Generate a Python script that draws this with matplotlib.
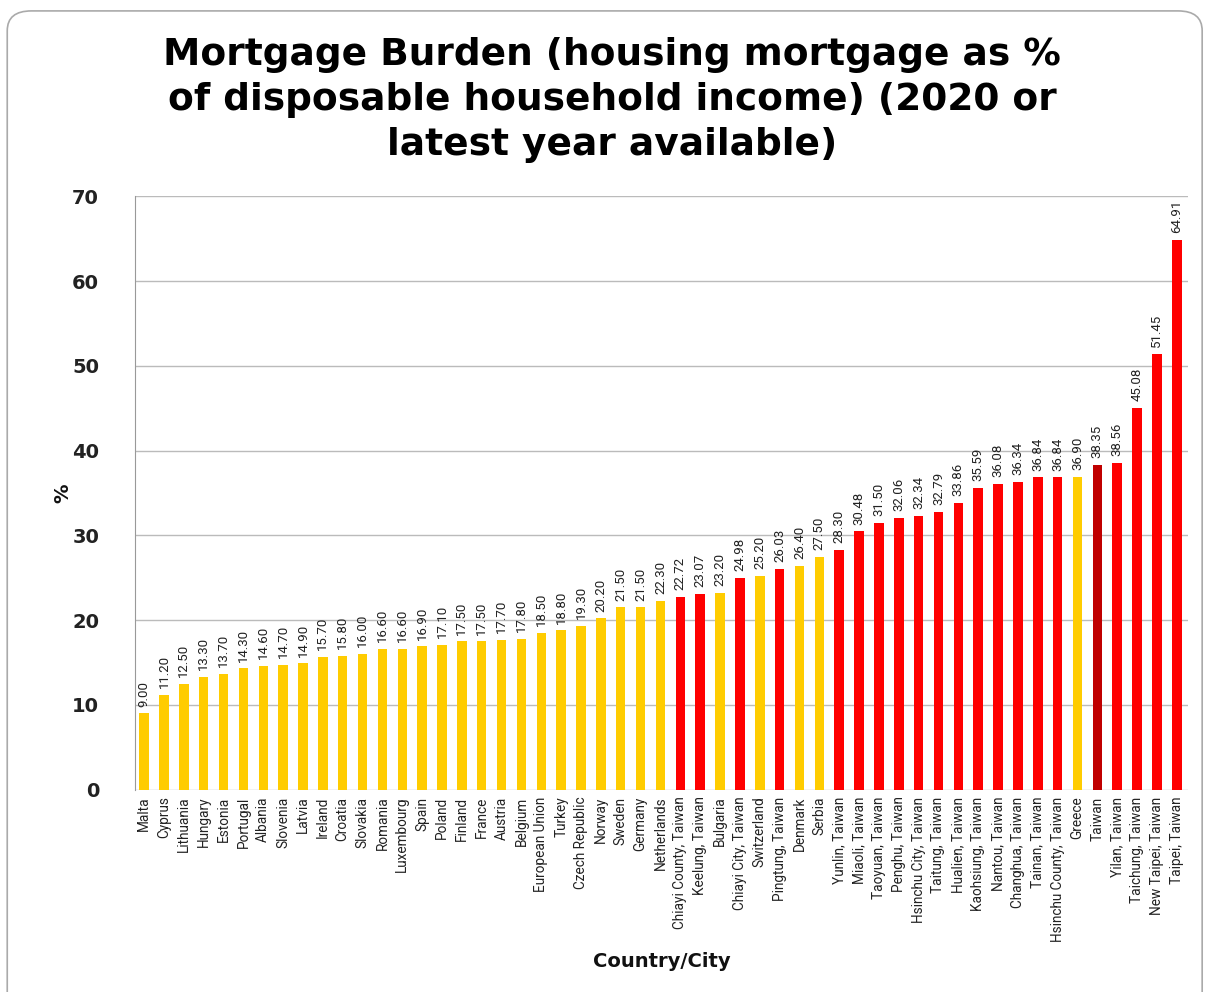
import matplotlib
matplotlib.use("Agg")
import matplotlib.pyplot as plt
from matplotlib.patches import FancyBboxPatch
import numpy as np

# 数据
labels = ["Malta", "Cyprus", "Lithuania", "Hungary", "Estonia", "Portugal", "Albania",
          "Slovenia", "Latvia", "Ireland", "Croatia", "Slovakia", "Romania", "Luxembourg",
          "Spain", "Poland", "Finland", "France", "Austria", "Belgium", "European Union",
          "Turkey", "Czech Republic", "Norway", "Sweden", "Germany", "Netherlands",
          "Chiayi County, Taiwan", "Keelung, Taiwan", "Bulgaria", "Chiayi City, Taiwan",
          "Switzerland", "Pingtung, Taiwan", "Denmark", "Serbia", "Yunlin, Taiwan",
          "Miaoli, Taiwan", "Taoyuan, Taiwan", "Penghu, Taiwan", "Hsinchu City, Taiwan",
          "Taitung, Taiwan", "Hualien, Taiwan", "Kaohsiung, Taiwan", "Nantou, Taiwan",
          "Changhua, Taiwan", "Tainan, Taiwan", "Hsinchu County, Taiwan", "Greece",
          "Taiwan", "Yilan, Taiwan", "Taichung, Taiwan", "New Taipei, Taiwan", "Taipei, Taiwan"]
values = [9.00, 11.20, 12.50, 13.30, 13.70, 14.30, 14.60, 14.70, 14.90, 15.70, 15.80,
          16.00, 16.60, 16.60, 16.90, 17.10, 17.50, 17.50, 17.70, 17.80, 18.50, 18.80,
          19.30, 20.20, 21.50, 21.50, 22.30, 22.72, 23.07, 23.20, 24.98, 25.20, 26.03,
          26.40, 27.50, 28.30, 30.48, 31.50, 32.06, 32.34, 32.79, 33.86, 35.59, 36.08,
          36.34, 36.84, 36.84, 36.90, 38.35, 38.56, 45.08, 51.45, 64.91]

def bar_color(name):
    if name == "Taiwan":
        return "#C00000"
    if "Taiwan" in name:
        return "#FF0000"
    return "#FFCC00"

colors = [bar_color(n) for n in labels]
narrow = "Roboto"

fig = plt.figure(figsize=(12.07, 9.92), dpi=100)
ax = fig.add_axes([0.112, 0.204, 0.872, 0.598])

x = np.arange(len(values))
ax.bar(x, values, width=0.48, color=colors, zorder=3)
for xi, v in zip(x, values):
    ax.text(xi, v + 0.8, f"{v:.2f}", rotation=90, ha="center", va="bottom",
            fontsize=9.5, family=narrow, color="#222222")

ax.set_xlim(-0.45, len(values) - 0.45)
ax.set_ylim(0, 70)
ax.set_yticks(range(0, 71, 10))
ax.set_yticklabels([str(t) for t in range(0, 71, 10)], fontsize=14,
                   fontweight="bold", family="DejaVu Sans", color="#222222")
ax.tick_params(axis="y", length=0, pad=26)
ax.tick_params(axis="x", length=0, pad=5)
ax.set_xticks(x)
ax.set_xticklabels(labels, rotation=90, fontsize=9.8, family=narrow, color="#222222")
ax.grid(axis="y", color="#BBBBBB", linewidth=1, zorder=0)
for s in ["top", "right", "bottom"]:
    ax.spines[s].set_visible(False)
ax.spines["left"].set_color("#999999")

fig.text(0.052, 0.503, "%", rotation=90, ha="center", va="center",
         fontsize=14, fontweight="bold", family="DejaVu Sans", color="#111111")
fig.text(0.548, 0.031, "Country/City", ha="center", va="center",
         fontsize=14, fontweight="bold", family="DejaVu Sans", color="#111111")

fig.text(0.507, 0.899, "Mortgage Burden (housing mortgage as %\nof disposable household income) (2020 or\nlatest year available)",
         ha="center", va="center", fontsize=27, fontweight="bold", family="DejaVu Sans",
         linespacing=1.33, color="#000000")

# 外框
frame = FancyBboxPatch((0.006, -0.02), 0.99, 1.009, boxstyle="round,pad=0,rounding_size=0.02",
                       transform=fig.transFigure, fill=False, edgecolor="#AAAAAA",
                       linewidth=1.2, zorder=0)
fig.patches.append(frame)

fig.savefig("out.png", dpi=100)
